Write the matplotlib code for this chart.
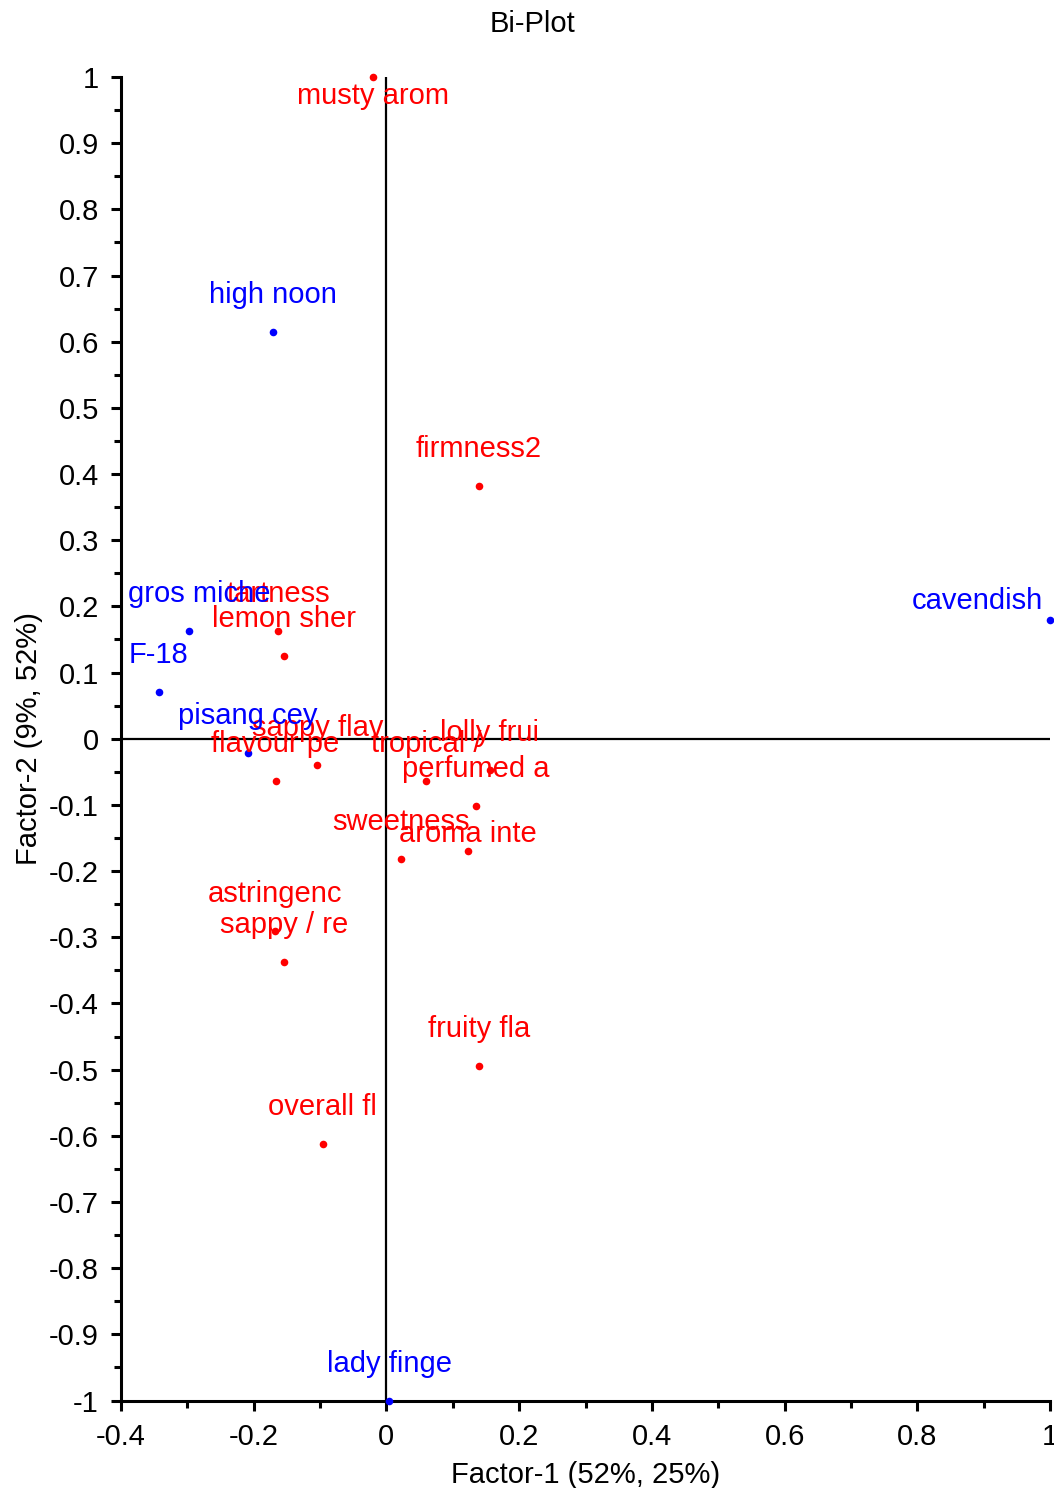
#!/usr/bin/env python3
import matplotlib
matplotlib.use("Agg")
import matplotlib.pyplot as plt
from matplotlib.ticker import MultipleLocator, FuncFormatter

# observations (blue)
sample_names = ["high noon", "cavendish", "gros miche", "F-18", "pisang cey", "lady finge"]
sample_x = [-0.171, 1.0, -0.298, -0.343, -0.209, 0.004]
sample_y = [0.615, 0.180, 0.163, 0.070, -0.022, -1.0]

# attributes (red)
attr_names = ["musty arom", "firmness2", "tartness", "lemon sher", "sappy flav",
              "flavour pe", "lolly frui", "tropical /", "perfumed a", "aroma inte",
              "sweetness", "astringenc", "sappy / re", "fruity fla", "overall fl"]
attr_x = [-0.020, 0.139, -0.163, -0.155, -0.104, -0.167, 0.156, 0.060, 0.135,
          0.123, 0.022, -0.168, -0.154, 0.139, -0.096]
attr_y = [1.0, 0.382, 0.163, 0.125, -0.039, -0.064, -0.047, -0.064, -0.102,
          -0.170, -0.182, -0.290, -0.338, -0.494, -0.612]

# label placement tweaks in pixels (dx, dy, ha); default is centred 37px above
label_pos = {
    "musty arom": (0, -19, "center"),
    "cavendish": (-7, 19, "right"),
    "gros miche": (11, 37, "center"),
    "aroma inte": (0, 17, "center"),
}

plt.rcParams["font.family"] = ["Liberation Sans", "DejaVu Sans"]
plt.rcParams["axes.unicode_minus"] = False
FS = 21

fig = plt.figure(figsize=(10.54, 14.88), dpi=100)
ax = fig.add_axes([121 / 1054, 1 - 1400.5 / 1488, 929 / 1054, 1323.5 / 1488])

ax.set_xlim(-0.4, 1.0)
ax.set_ylim(-1.0, 1.0)
ax.axhline(0, color="black", lw=1.6, zorder=1)
ax.axvline(0, color="black", lw=1.6, zorder=1)


def draw_group(names, xs, ys, color):
    ax.scatter(xs, ys, s=30, color=color, zorder=3, clip_on=False, linewidths=0)
    for name, x, y in zip(names, xs, ys):
        dx, dy, ha = label_pos.get(name, (0, 37, "center"))
        ax.annotate(name, (x, y), xytext=(dx, dy), textcoords="offset pixels",
                    ha=ha, va="center", color=color, fontsize=FS,
                    annotation_clip=False, zorder=4)


draw_group(attr_names, attr_x, attr_y, "#ff0000")
draw_group(sample_names, sample_x, sample_y, "#0000ff")

for side in ("top", "right"):
    ax.spines[side].set_visible(False)
for side in ("left", "bottom"):
    ax.spines[side].set_linewidth(2.2)

ax.xaxis.set_major_locator(MultipleLocator(0.2))
ax.xaxis.set_minor_locator(MultipleLocator(0.1))
ax.yaxis.set_major_locator(MultipleLocator(0.1))
ax.yaxis.set_minor_locator(MultipleLocator(0.05))
fmt = FuncFormatter(lambda v, pos: f"{round(v, 2):g}" if abs(v) > 1e-9 else "0")
ax.xaxis.set_major_formatter(fmt)
ax.yaxis.set_major_formatter(fmt)
ax.tick_params(which="major", length=7.5, width=2.2, labelsize=FS, pad=8.5)
ax.tick_params(which="minor", length=5, width=2.2)

ax.set_xlabel("Factor-1 (52%, 25%)", fontsize=FS)
ax.xaxis.set_label_coords(585.5 / 1054, 1 - 1461 / 1488, transform=fig.transFigure)
ax.set_ylabel("Factor-2 (9%, 52%)", fontsize=FS)
ax.yaxis.set_label_coords(-0.084, 0.5)

fig.text(533 / 1054, 1 - 24 / 1488, "Bi-Plot", ha="center", va="center", fontsize=FS)

fig.savefig("out.png", dpi=100)
plt.close(fig)
